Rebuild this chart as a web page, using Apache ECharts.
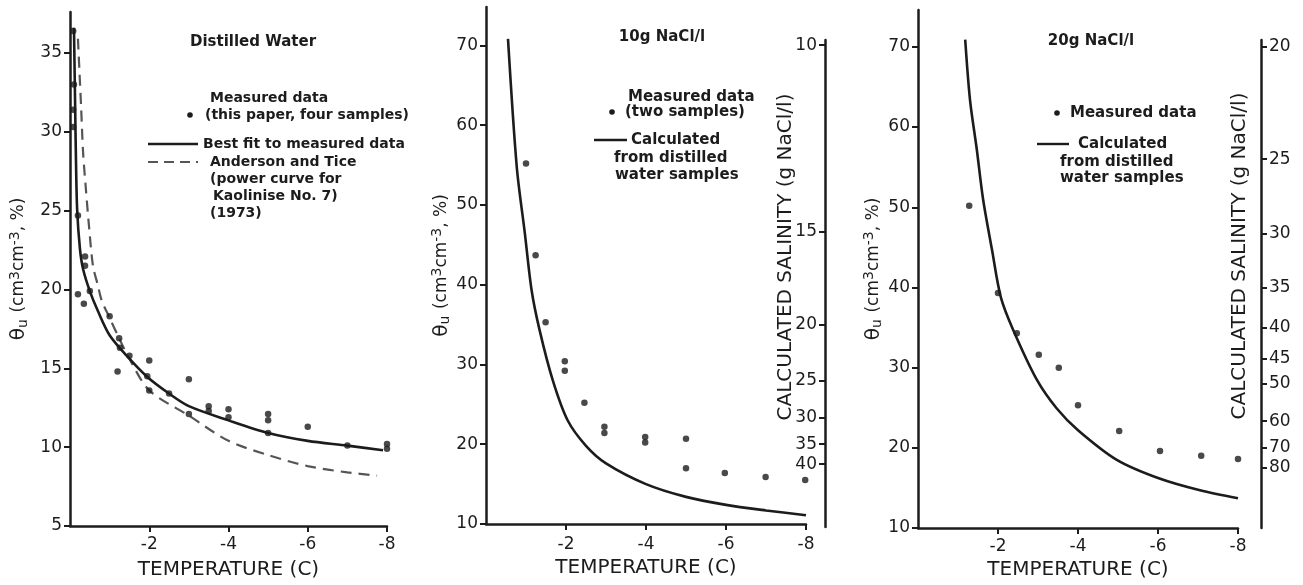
<!DOCTYPE html>
<html><head><meta charset="utf-8">
<script src="https://cdn.jsdelivr.net/npm/echarts@6/dist/echarts.min.js"></script>
<style>html,body{margin:0;padding:0;background:#fff}#c{width:1303px;height:585px}</style>
</head><body><div id="c"></div>
<script>
// ---------- DATA ----------
const xTicks = [-2, -4, -6, -8];
const p1YTicks = [5, 10, 15, 20, 25, 30, 35];
const p23YTicks = [10, 20, 30, 40, 50, 60, 70];
// Panel 1: Distilled water
const p1FitT = [-0.1, -0.13, -0.15, -0.18, -0.25, -0.33, -0.5, -0.71, -1.0, -1.43, -1.93, -2.5, -3.0, -4.0, -5.0, -6.0, -7.0, -7.9];
const p1FitV = [36.6, 31.6, 28.3, 25.1, 22.6, 21.3, 19.9, 18.6, 17.1, 15.8, 14.5, 13.4, 12.6, 11.7, 10.9, 10.4, 10.1, 9.8];
const p1ATT = [-0.2, -0.28, -0.33, -0.4, -0.48, -0.58, -0.7, -0.8, -1.0, -1.26, -1.5, -2.0, -3.0, -4.0, -5.0, -6.0, -7.0, -7.75];
const p1ATV = [35.9, 31.6, 28.7, 26.4, 24.0, 21.5, 20.3, 19.3, 18.2, 16.8, 15.6, 13.6, 12.0, 10.4, 9.5, 8.8, 8.4, 8.2];
const p1MeasT = [-0.08, -0.08, -0.08, -0.1, -0.2, -0.38, -0.38, -0.2, -0.35, -0.5, -1.0, -1.24, -1.26, -1.2, -1.5, -2.0, -1.95, -2.0, -2.5, -3.0, -3.0, -3.5, -3.5, -4.0, -4.0, -5.0, -5.0, -5.0, -6.0, -7.0, -8.0, -8.0];
const p1MeasV = [36.4, 31.4, 30.3, 33.0, 24.7, 22.1, 21.5, 19.7, 19.1, 19.9, 18.3, 16.9, 16.3, 14.8, 15.8, 15.5, 14.5, 13.6, 13.4, 14.3, 12.1, 12.6, 12.3, 12.4, 11.9, 12.1, 11.7, 10.9, 11.3, 10.1, 10.2, 9.9];
// Panel 2: 10 g NaCl/l
const p2CalcT = [-0.55, -0.77, -0.97, -1.14, -1.34, -1.67, -2.04, -2.5, -3.0, -4.0, -5.0, -6.0, -7.0, -8.0];
const p2CalcV = [70.8, 54.7, 46.5, 39.3, 34.3, 28.0, 23.0, 19.8, 17.6, 15.0, 13.4, 12.4, 11.7, 11.1];
const p2MeasT = [-1.0, -1.24, -1.49, -1.97, -1.97, -2.46, -2.96, -2.96, -3.98, -3.98, -5.0, -5.0, -5.97, -6.99, -7.98];
const p2MeasV = [55.2, 43.7, 35.3, 30.4, 29.2, 25.2, 22.2, 21.4, 20.9, 20.2, 20.7, 17.0, 16.4, 15.9, 15.5];
const p2SalTicks = [10, 15, 20, 25, 30, 35, 40];
// Panel 3: 20 g NaCl/l
const p3CalcT = [-1.18, -1.3, -1.47, -1.63, -1.85, -2.07, -2.38, -2.97, -3.47, -4.0, -4.97, -6.02, -7.05, -8.0];
const p3CalcV = [70.9, 63.4, 57.2, 50.9, 44.7, 38.8, 34.7, 28.5, 24.9, 22.2, 18.5, 16.2, 14.7, 13.7];
const p3MeasT = [-1.28, -2.0, -2.47, -3.02, -3.52, -4.0, -5.03, -6.05, -7.08, -8.0];
const p3MeasV = [50.2, 39.3, 34.3, 31.6, 30.0, 25.3, 22.1, 19.6, 19.0, 18.6];
const p3SalTicks = [20, 25, 30, 35, 40, 45, 50, 60, 70, 80];
// salinity = initial salinity * total water content / unfrozen water content
const thetaTotal = 70;
const p2S0 = 10, p3S0 = 20;

// ---------- CHART ----------
const INK = '#1c1c1c';
const FONT = 'DejaVu Sans';
const zip = (a, b) => a.map((v, i) => [v, b[i]]);

const axisLine = { lineStyle: { color: INK, width: 2.5 } };
const tick = (vals, inside) => ({ show: true, length: 6, inside: !!inside, lineStyle: { color: INK, width: 2 }, customValues: vals });
const yNameRich = {
  a: { fontFamily: FONT, fontSize: 20, color: INK },
  b: { fontFamily: FONT, fontSize: 14, color: INK, verticalAlign: 'bottom', padding: [8, 0, 0, 0] },
  c: { fontFamily: FONT, fontSize: 17, color: INK },
  d: { fontFamily: FONT, fontSize: 14, color: INK, verticalAlign: 'top', padding: [0, 0, 7, 0] }
};
const yName = '{a|θ}{b|u}  {c|(cm}{d|3}{c|cm}{d|-3}{c|, %)}';

function xAx(grid, margin, gap) {
  return {
    type: 'value', gridIndex: grid, min: -8, max: 0, inverse: true,
    axisLine: Object.assign({ onZero: false }, axisLine),
    axisTick: tick(xTicks),
    axisLabel: { customValues: xTicks, color: INK, fontFamily: FONT, fontSize: 17, margin: margin, formatter: v => String(v) },
    splitLine: { show: false },
    name: 'TEMPERATURE (C)', nameLocation: 'middle', nameGap: gap,
    nameTextStyle: { color: INK, fontFamily: FONT, fontSize: 20 }
  };
}
function yAx(grid, min, max, ticks, gap) {
  return {
    type: 'value', gridIndex: grid, min: min, max: max,
    axisLine: Object.assign({ onZero: false }, axisLine),
    axisTick: tick(ticks),
    axisLabel: { customValues: ticks, color: INK, fontFamily: FONT, fontSize: 17, margin: 8 },
    splitLine: { show: false },
    name: yName, nameLocation: 'middle', nameRotate: 90, nameGap: gap,
    nameTextStyle: { rich: yNameRich }
  };
}
function salAx(grid, min, max, ticks, s0, inside) {
  const k = s0 * thetaTotal;
  return {
    type: 'value', gridIndex: grid, position: 'right', min: min, max: max,
    axisLine: Object.assign({ onZero: false }, axisLine),
    axisTick: tick(ticks.map(s => k / s), inside),
    axisLabel: { customValues: ticks.map(s => k / s), inside: inside, color: INK, fontFamily: FONT, fontSize: 17, margin: 8,
      formatter: v => String(Math.round(k / v)) },
    splitLine: { show: false }
  };
}
function hiddenX(grid) { return { type: 'value', gridIndex: grid, min: -8, max: 0, show: false }; }

const scatter = (x, y, t, v) => ({ type: 'scatter', xAxisIndex: x, yAxisIndex: y, data: zip(t, v), symbolSize: 6.5, itemStyle: { color: INK }, silent: true, z: 3 });
const curve = (x, y, t, v, dashed) => ({
  type: 'line', xAxisIndex: x, yAxisIndex: y, data: zip(t, v), smooth: 0.3, showSymbol: false, silent: true,
  lineStyle: dashed ? { color: '#555', width: 2.2, type: [11, 7] } : { color: INK, width: 2.6 }
});

const txt = (s, x, y, size, weight, align) => ({
  type: 'text', x: x, y: y, silent: true,
  style: { text: s, fill: INK, font: (weight || 'normal') + ' ' + size + 'px "' + FONT + '"', textAlign: align || 'left', textVerticalAlign: 'middle' }
});
const rtxt = (s, x, y) => ({
  type: 'text', x: x, y: y, rotation: Math.PI / 2, silent: true,
  style: { text: s, fill: INK, font: 'normal 20px "' + FONT + '"', textAlign: 'center', textVerticalAlign: 'middle' }
});
const hline = (x1, x2, y, dashed) => ({
  type: 'line', silent: true, shape: { x1: x1, y1: y, x2: x2, y2: y },
  style: dashed ? { stroke: '#555', lineWidth: 2.2, lineDash: [10, 6] } : { stroke: INK, lineWidth: 2.4 }
});
const dot = (x, y) => ({ type: 'circle', silent: true, shape: { cx: x, cy: y, r: 2.8 }, style: { fill: INK } });

const option = {
  backgroundColor: '#fff',
  animation: false,
  grid: [
    { left: 70, right: 916, top: 12, bottom: 56 },
    { left: 486, right: 497, top: 7, bottom: 61 },
    { left: 918, right: 65, top: 10, bottom: 57 },
    { left: 486, right: 478, top: 40, bottom: 58 },
    { left: 918, right: 42, top: 40, bottom: 57 }
  ],
  xAxis: [xAx(0, 10, 34), xAx(1, 12, 34), xAx(2, 10, 32), hiddenX(3), hiddenX(4)],
  yAxis: [
    yAx(0, 5, 37.6, p1YTicks, 40),
    yAx(1, 10, 74.8, p23YTicks, 29),
    yAx(2, 10, 74.6, p23YTicks, 28),
    salAx(3, 9.62, 70.65, p2SalTicks, p2S0, true),
    salAx(4, 10, 70.87, p3SalTicks, p3S0, false)
  ],
  series: [
    curve(0, 0, p1ATT, p1ATV, true),
    curve(0, 0, p1FitT, p1FitV, false),
    scatter(0, 0, p1MeasT, p1MeasV),
    curve(1, 1, p2CalcT, p2CalcV, false),
    scatter(1, 1, p2MeasT, p2MeasV),
    curve(2, 2, p3CalcT, p3CalcV, false),
    scatter(2, 2, p3MeasT, p3MeasV)
  ],
  graphic: [
    txt('Distilled Water', 253, 42, 15, 'bold', 'center'),
    txt('Measured data', 210, 98, 14, 'bold'),
    dot(190, 115), txt('(this paper, four samples)', 205, 115, 14, 'bold'),
    hline(148, 198, 144), txt('Best fit to measured data', 203, 144, 14, 'bold'),
    hline(148, 198, 162, true), txt('Anderson and Tice', 210, 162, 14, 'bold'),
    txt('(power curve for', 210, 179, 14, 'bold'),
    txt('Kaolinise No. 7)', 213, 196, 14, 'bold'),
    txt('(1973)', 210, 213, 14, 'bold'),

    txt('10g NaCl/l', 662, 37, 15, 'bold', 'center'),
    txt('Measured data', 628, 97, 15, 'bold'),
    dot(612, 112), txt('(two samples)', 625, 112, 15, 'bold'),
    hline(594, 627, 140), txt('Calculated', 631, 140, 15, 'bold'),
    txt('from distilled', 614, 158, 15, 'bold'),
    txt('water samples', 615, 175, 15, 'bold'),
    rtxt('CALCULATED SALINITY (g NaCl/l)', 786, 257),

    txt('20g NaCl/l', 1091, 41, 15, 'bold', 'center'),
    dot(1057, 113), txt('Measured data', 1070, 113, 15, 'bold'),
    hline(1037, 1069, 144), txt('Calculated', 1078, 144, 15, 'bold'),
    txt('from distilled', 1060, 162, 15, 'bold'),
    txt('water samples', 1060, 178, 15, 'bold'),
    rtxt('CALCULATED SALINITY (g NaCl/l)', 1240, 256)
  ]
};
const chart = echarts.init(document.getElementById('c'), null, { renderer: 'canvas' });
chart.setOption(option);
</script></body></html>
